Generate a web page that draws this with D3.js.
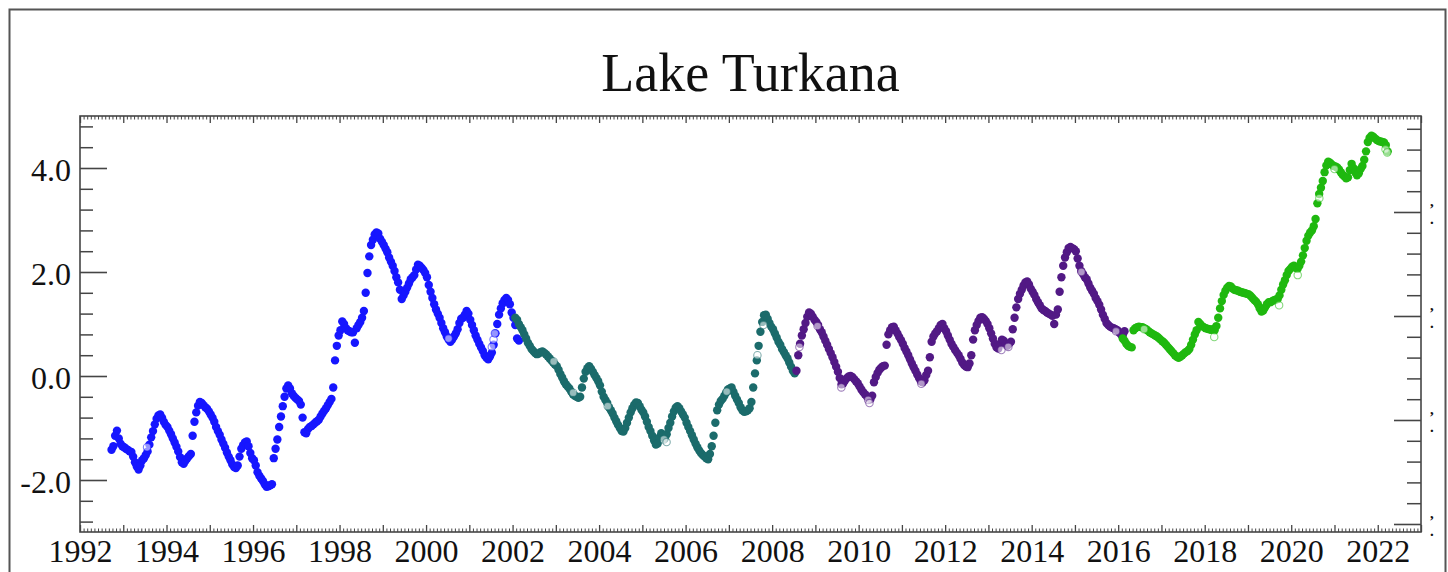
<!DOCTYPE html>
<html>
<head>
<meta charset="utf-8">
<script src="https://cdn.jsdelivr.net/npm/d3@7"></script>
<style>
  html, body { margin: 0; padding: 0; background: #fff; overflow: hidden; }
  svg { display: block; }
</style>
</head>
<body>
<svg id="chart" width="1448" height="572"></svg>
<script>
// ---- Data -----------------------------------------------------------------
const chartTitle = "Lake Turkana";

// Altimetry missions, their marker colours and first sample (year, half-month slot)
const missionNames  = ["TOPEX/Poseidon", "Jason-1", "Jason-2", "Jason-3"];
const missionColors = ["#1616ff", "#1b6b6b", "#521985", "#1fb80f"];
const missionFirst  = [[1992, 17], [2002, 1], [2008, 13], [2016, 2]];
const samplesPerYear = 24;

// Lake height variation (m); one row per calendar year, half-month samples
const topexLevels = [
  [-1.42,-1.35,-1.15,-1.05,-1.20,-1.30,-1.35],
  [-1.37,-1.40,-1.42,-1.45,-1.46,-1.55,-1.66,-1.74,-1.80,-1.72,-1.62,-1.58,-1.52,-1.45,-1.32,-1.18,-1.06,-0.93,-0.82,-0.76,-0.74,-0.80,-0.88,-0.94],
  [-0.98,-1.05,-1.12,-1.20,-1.28,-1.36,-1.45,-1.56,-1.66,-1.69,-1.63,-1.58,-1.54,-1.50,-1.15,-0.88,-0.70,-0.57,-0.50,-0.52,-0.56,-0.60,-0.63,-0.68],
  [-0.74,-0.80,-0.88,-0.98,-1.06,-1.13,-1.22,-1.30,-1.38,-1.47,-1.55,-1.62,-1.70,-1.75,-1.77,-1.72,-1.55,-1.40,-1.33,-1.28,-1.26,-1.35,-1.48,-1.58],
  [-1.62,-1.72,-1.85,-1.92,-1.97,-2.02,-2.08,-2.13,-2.12,-2.10,-2.08,-1.58,-1.40,-1.22,-0.98,-0.78,-0.58,-0.40,-0.24,-0.18,-0.24,-0.33,-0.38,-0.42],
  [-0.45,-0.48,-0.55,-0.80,-1.08,-1.10,-1.02,-0.98,-0.96,-0.93,-0.90,-0.87,-0.84,-0.78,-0.72,-0.67,-0.62,-0.56,-0.50,-0.44,-0.22,0.30,0.58,0.78],
  [0.88,1.05,1.00,0.92,0.88,0.86,0.84,0.84,0.64,0.92,0.98,1.04,1.12,1.25,1.60,1.98,2.30,2.52,2.62,2.72,2.76,2.74,2.64,2.58],
  [2.52,2.45,2.38,2.28,2.20,2.12,2.02,1.90,1.80,1.66,1.48,1.55,1.62,1.70,1.78,1.86,1.90,1.94,2.05,2.14,2.12,2.08,2.04,1.98],
  [1.90,1.75,1.62,1.50,1.38,1.28,1.20,1.12,1.02,0.92,0.84,0.76,0.70,0.66,0.70,0.76,0.82,0.90,1.02,1.10,1.12,1.18,1.25,1.20],
  [1.08,0.98,0.88,0.78,0.70,0.62,0.55,0.48,0.40,0.35,0.32,0.38,0.45,0.60,0.82,1.00,1.18,1.30,1.40,1.46,1.50,1.46,1.38,1.22],
  [1.12,0.98,0.72,0.68]
];
const jason1Levels = [
  [1.12,1.08,1.00,0.94,0.88,0.80,0.72,0.64,0.58,0.52,0.48,0.44,0.42,0.43,0.46,0.47,0.45,0.42,0.38,0.34,0.30,0.26,0.22],
  [0.19,0.12,0.04,-0.03,-0.10,-0.16,-0.20,-0.24,-0.30,-0.35,-0.38,-0.40,-0.42,-0.40,-0.22,-0.05,0.08,0.15,0.19,0.14,0.08,0.02,-0.04,-0.10],
  [-0.18,-0.30,-0.40,-0.46,-0.52,-0.60,-0.66,-0.72,-0.80,-0.87,-0.94,-1.00,-1.06,-1.07,-1.00,-0.90,-0.80,-0.70,-0.62,-0.55,-0.51,-0.52,-0.58,-0.65],
  [-0.70,-0.78,-0.88,-0.98,-1.06,-1.15,-1.24,-1.32,-1.30,-1.18,-1.10,-1.14,-1.20,-1.12,-1.00,-0.90,-0.78,-0.68,-0.61,-0.58,-0.62,-0.68,-0.74,-0.80],
  [-0.90,-0.98,-1.06,-1.14,-1.22,-1.30,-1.37,-1.43,-1.48,-1.52,-1.55,-1.58,-1.60,-1.50,-1.35,-1.15,-0.90,-0.66,-0.55,-0.48,-0.44,-0.38,-0.32,-0.26],
  [-0.24,-0.22,-0.30,-0.38,-0.45,-0.52,-0.60,-0.66,-0.69,-0.68,-0.66,-0.62,-0.50,-0.22,0.05,0.30,0.58,0.85,1.04,1.17,1.18,1.10,1.02,0.95],
  [0.90,0.82,0.74,0.66,0.60,0.52,0.46,0.40,0.34,0.26,0.18,0.10,0.05]
];
const jason2Levels = [
  [0.10,0.40,0.62,0.78,0.90,1.02,1.14,1.22,1.20,1.14,1.08],
  [1.04,0.98,0.90,0.84,0.76,0.68,0.60,0.52,0.44,0.36,0.27,0.18,0.08,-0.04,-0.16,-0.14,-0.08,-0.04,-0.01,0.00,-0.02,-0.06,-0.10,-0.14],
  [-0.20,-0.26,-0.31,-0.35,-0.39,-0.43,-0.45,-0.38,-0.12,-0.02,0.06,0.12,0.16,0.19,0.20,0.60,0.80,0.88,0.94,0.95,0.88,0.82,0.75,0.69],
  [0.62,0.54,0.47,0.40,0.32,0.24,0.17,0.10,0.03,-0.04,-0.10,-0.12,-0.08,0.02,0.10,0.36,0.66,0.76,0.82,0.86,0.92,0.98,1.00,0.92],
  [0.86,0.78,0.70,0.62,0.56,0.50,0.45,0.40,0.33,0.26,0.21,0.18,0.17,0.24,0.40,0.70,0.88,0.98,1.06,1.12,1.13,1.10,1.06,1.00],
  [0.92,0.82,0.72,0.62,0.55,0.53,0.62,0.70,0.68,0.60,0.58,0.62,0.66,0.90,1.12,1.32,1.48,1.58,1.66,1.74,1.80,1.82,1.76,1.68],
  [1.62,1.56,1.48,1.42,1.36,1.30,1.27,1.25,1.22,1.20,1.18,1.16,1.00,1.18,1.28,1.62,1.90,2.12,2.28,2.38,2.46,2.48,2.46,2.44],
  [2.40,2.26,2.12,2.02,1.96,1.90,1.86,1.78,1.70,1.64,1.58,1.50,1.44,1.37,1.28,1.18,1.10,1.02,0.98,0.95,0.93,0.92,0.90,0.88],
  [0.84,0.80,0.78,0.86]
];
const jason3Levels = [
  [0.72,0.68,0.62,0.58,0.56,0.55,0.88,0.92,0.94,0.95,0.94,0.94,0.92,0.90,0.87,0.84,0.82,0.80,0.78,0.76,0.73,0.70],
  [0.67,0.64,0.60,0.56,0.52,0.48,0.44,0.40,0.37,0.35,0.37,0.40,0.43,0.46,0.48,0.52,0.60,0.70,0.80,0.88,1.04,1.00,0.96,0.94],
  [0.92,0.91,0.90,0.89,0.90,0.88,0.96,1.12,1.30,1.44,1.56,1.64,1.70,1.73,1.72,1.68,1.66,1.65,1.64,1.62,1.61,1.60,1.59,1.58],
  [1.57,1.54,1.50,1.46,1.43,1.38,1.30,1.24,1.26,1.32,1.38,1.42,1.42,1.44,1.46,1.47,1.48,1.55,1.66,1.76,1.84,1.94,2.02,2.06],
  [2.10,2.12,2.08,2.06,2.12,2.20,2.32,2.46,2.60,2.70,2.76,2.80,2.88,3.02,3.32,3.50,3.62,3.75,3.92,4.05,4.12,4.10,4.07,4.04],
  [4.03,4.01,3.97,3.92,3.87,3.84,3.80,3.82,3.96,4.08,4.00,3.92,3.86,3.90,3.98,4.04,4.16,4.32,4.50,4.58,4.62,4.60,4.57,4.54],
  [4.52,4.51,4.50,4.49,4.44,4.32]
];

// Lower-quality retrievals, drawn as open circles: [decimal year, height]
const topexFlagged  = [[1993.55,-1.37],[2001.52,0.56],[2001.56,0.70],[2001.59,0.82],[2000.52,0.72]];
const jason1Flagged = [[2002.95,0.28],[2003.40,-0.32],[2004.20,-0.58],[2005.50,-1.22],[2005.56,-1.27],[2006.95,-0.30],[2007.66,0.40],[2007.80,0.98]];
const jason2Flagged = [[2008.63,0.56],[2009.05,0.96],[2009.60,-0.22],[2010.22,-0.46],[2010.25,-0.52],[2011.45,-0.15],[2013.30,0.50],[2013.46,0.56],[2015.15,2.00],[2015.95,0.86]];
const jason3Flagged = [[2016.60,0.90],[2018.22,0.75],[2019.72,1.36],[2020.15,1.94],[2020.65,3.42],[2021.00,3.98],[2022.18,4.36],[2022.22,4.30]];

// Axis ticks
const yearLabels   = d3.range(1992, 2023, 2);
const yearTicks    = d3.range(1992, 2024);
const leftLabels   = [-2, 0, 2, 4];
const rightMajor   = [360, 362, 364, 366];

// ---- Layout ---------------------------------------------------------------
const plot = { left: 80, top: 116, right: 1421, bottom: 532 };
const svg = d3.select("#chart");
const serif = "'Liberation Serif', 'Times New Roman', serif";
const axisColor = "#454545";

const x  = d3.scaleLinear().domain([1992, 2023]).range([plot.left, plot.right]);
const y  = d3.scaleLinear().domain([-3, 5]).range([plot.bottom, plot.top]);
const y2 = d3.scaleLinear().domain([359.846, 367.846]).range([plot.bottom, plot.top]);

// outer page frame
svg.append("rect")
  .attr("x", 9.5).attr("y", 9.5).attr("width", 1436).attr("height", 620)
  .attr("fill", "none").attr("stroke", "#555").attr("stroke-width", 2);

// title
svg.append("text")
  .attr("x", (plot.left + plot.right) / 2).attr("y", 91)
  .attr("text-anchor", "middle")
  .attr("font-family", serif).attr("font-size", 54)
  .attr("fill", "#111")
  .text(chartTitle);

// ---- Points ---------------------------------------------------------------
const missionLevels  = [topexLevels, jason1Levels, jason2Levels, jason3Levels];
const missionFlagged = [topexFlagged, jason1Flagged, jason2Flagged, jason3Flagged];

function expand(rows, first) {
  const out = [];
  rows.forEach((row, r) => {
    const year = first[0] + r;
    const slot0 = r === 0 ? first[1] : 0;
    row.forEach((v, i) => out.push([year + (slot0 + i + 0.5) / samplesPerYear, v]));
  });
  return out;
}

const pts = svg.append("g");
missionNames.forEach((name, m) => {
  const data = expand(missionLevels[m], missionFirst[m]);
  pts.append("g").attr("class", "mission").attr("data-name", name)
    .selectAll("circle").data(data).join("circle")
    .attr("cx", d => x(d[0])).attr("cy", d => y(d[1]))
    .attr("r", 4.2).attr("fill", missionColors[m]);
});
missionNames.forEach((name, m) => {
  pts.append("g").attr("class", "flagged")
    .selectAll("circle").data(missionFlagged[m]).join("circle")
    .attr("cx", d => x(d[0])).attr("cy", d => y(d[1]))
    .attr("r", 3.7).attr("fill", "#fff").attr("fill-opacity", 0.55)
    .attr("stroke", missionColors[m]).attr("stroke-opacity", 0.55).attr("stroke-width", 1.1);
});

// ---- Axes -----------------------------------------------------------------
function style(g, w) {
  g.select(".domain").remove();
  g.selectAll("line").attr("stroke", axisColor).attr("stroke-width", w);
}

const leftMinor = d3.range(-7, 13).filter(i => i % 5 !== 0).map(i => i * 0.4);
svg.append("g").attr("transform", `translate(${plot.left},0)`)
  .call(d3.axisLeft(y).tickValues(leftMinor).tickSize(-13).tickFormat(""))
  .call(g => style(g, 1.5));
svg.append("g").attr("transform", `translate(${plot.left},0)`)
  .call(d3.axisLeft(y).tickValues(leftLabels).tickSize(-27).tickPadding(9).tickFormat(d3.format(".1f")))
  .call(g => style(g, 1.6))
  .call(g => g.selectAll("text")
    .attr("font-family", serif).attr("font-size", 32).attr("fill", "#111")
    .attr("dy", "0.375em").text(d => d3.format(".1f")(d).replace("−", "-")));

// secondary (right) axis
const rightMinor = d3.range(0, 20).filter(i => i % 5 !== 0).map(i => 360 + i * 0.4);
svg.append("g").attr("transform", `translate(${plot.right},0)`)
  .call(d3.axisRight(y2).tickValues(rightMinor).tickSize(-14).tickFormat(""))
  .call(g => style(g, 1.5));
svg.append("g").attr("transform", `translate(${plot.right},0)`)
  .call(d3.axisRight(y2).tickValues(rightMajor).tickSize(-27).tickFormat(""))
  .call(g => style(g, 1.6));
const rightMarks = svg.append("g").attr("font-family", serif).attr("fill", "#111")
  .attr("font-weight", "bold");
rightMajor.forEach(v => {
  rightMarks.append("text").attr("x", 1430).attr("y", y2(v) - 6).attr("font-size", 15).text(",");
  rightMarks.append("text").attr("x", 1430).attr("y", y2(v) + 12).attr("font-size", 15).text(".");
});

// top and bottom: yearly and monthly ticks
const months = d3.range(1992 * 12, 2023 * 12 + 1).filter(m => m % 12 !== 0).map(m => m / 12);
[[d3.axisTop, plot.top], [d3.axisBottom, plot.bottom]].forEach(([ax, ypos]) => {
  svg.append("g").attr("transform", `translate(0,${ypos})`)
    .call(ax(x).tickValues(months).tickSize(-3.5).tickFormat(""))
    .call(g => style(g, 1));
  svg.append("g").attr("transform", `translate(0,${ypos})`)
    .call(ax(x).tickValues(yearTicks).tickSize(-7).tickFormat(""))
    .call(g => style(g, 1.3));
});
svg.append("g").attr("transform", `translate(0,${plot.bottom})`)
  .call(d3.axisBottom(x).tickValues(yearLabels).tickSize(0).tickPadding(7).tickFormat(d3.format("d")))
  .call(g => g.select(".domain").remove())
  .call(g => g.selectAll("text").attr("font-family", serif).attr("font-size", 32).attr("fill", "#111"));

// plot frame
svg.append("rect")
  .attr("x", plot.left).attr("y", plot.top)
  .attr("width", plot.right - plot.left).attr("height", plot.bottom - plot.top)
  .attr("fill", "none").attr("stroke", axisColor).attr("stroke-width", 1.6);
</script>
</body>
</html>
